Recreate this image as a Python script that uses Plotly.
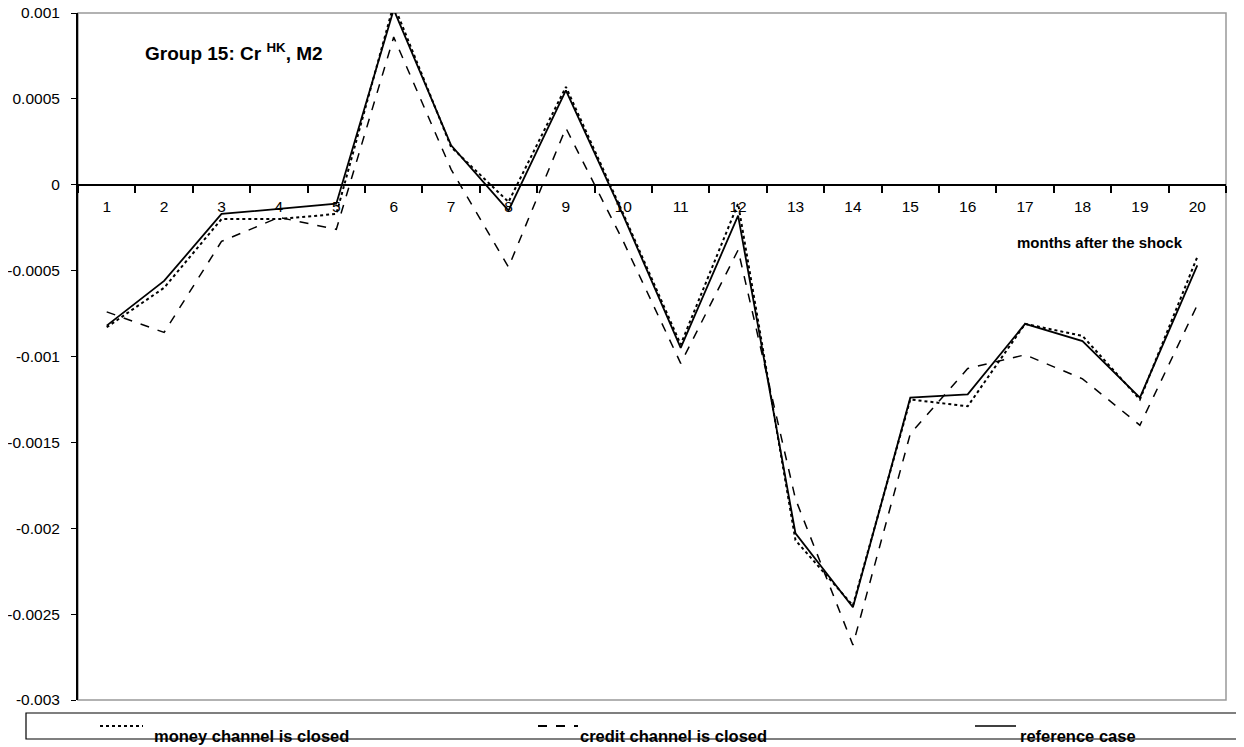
import plotly.graph_objects as go

months = [str(i) for i in range(1, 21)]
money_closed = [-0.00083, -0.00060, -0.00020, -0.00020, -0.00017, 0.00105, 0.00022, -0.00010, 0.00057, -0.00017,
                -0.00093, -0.00011, -0.00207, -0.00245, -0.00125, -0.00129, -0.00081, -0.00088, -0.00125, -0.00042]
credit_closed = [-0.00074, -0.00086, -0.00033, -0.00019, -0.00026, 0.00086, 0.00009, -0.00048, 0.00033, -0.00033,
                 -0.00104, -0.00038, -0.00183, -0.00268, -0.00145, -0.00107, -0.00099, -0.00113, -0.00140, -0.00070]
reference = [-0.00082, -0.00056, -0.00017, -0.00014, -0.00011, 0.00102, 0.00023, -0.00015, 0.00055, -0.00018,
             -0.00095, -0.00018, -0.00203, -0.00246, -0.00124, -0.00122, -0.00081, -0.00091, -0.00124, -0.00047]
y_ticks = [0.001, 0.0005, 0, -0.0005, -0.001, -0.0015, -0.002, -0.0025, -0.003]
y_tick_labels = ["0.001", "0.0005", "0", "-0.0005", "-0.001", "-0.0015", "-0.002", "-0.0025", "-0.003"]

# the page places the figure 8px from its top-left corner (default body margin)
W, H = 1236, 739
L, R, T, B = 70, 18, 5, 47
OFF = 8
PLOT_LEFT = OFF + L
PLOT_BOTTOM = OFF + H - B
PH = H - T - B
PW = W - L - R

def py(ypage):
    return (PLOT_BOTTOM - ypage) / PH

def px(xpage):
    return (xpage - PLOT_LEFT) / PW

FONT = "Liberation Sans, Arial, sans-serif"

fig = go.Figure()
fig.add_trace(go.Scatter(x=months, y=money_closed, mode="lines", name="money channel is closed",
                         line=dict(color="black", width=2, dash="dot"), showlegend=False))
fig.add_trace(go.Scatter(x=months, y=credit_closed, mode="lines", name="credit channel is closed",
                         line=dict(color="black", width=1.5, dash="dash"), showlegend=False))
fig.add_trace(go.Scatter(x=months, y=reference, mode="lines", name="reference case",
                         line=dict(color="black", width=1.8), showlegend=False))

shapes = [
    dict(type="rect", xref="paper", yref="paper", x0=0, x1=1, y0=0, y1=1,
         line=dict(color="#999999", width=1.5), layer="below"),
    dict(type="rect", xref="paper", yref="paper", x0=px(26), x1=px(1241), y0=py(739), y1=py(713),
         line=dict(color="black", width=1.2)),
    dict(type="line", xref="paper", yref="paper", x0=px(100), x1=px(143), y0=py(726), y1=py(726),
         line=dict(color="black", width=2, dash="dot")),
    dict(type="line", xref="paper", yref="paper", x0=px(538), x1=px(578), y0=py(726), y1=py(726),
         line=dict(color="black", width=1.8, dash="dash")),
    dict(type="line", xref="paper", yref="paper", x0=px(975), x1=px(1016), y0=py(726), y1=py(726),
         line=dict(color="black", width=1.5)),
]

annotations = [
    dict(text="<b>Group 15: Cr <sup>HK</sup>, M2</b>", xref="paper", yref="paper", x=px(143), y=py(52),
         xanchor="left", yanchor="middle", showarrow=False, font=dict(family=FONT, size=19, color="black")),
    dict(text="<b>months after the shock</b>", xref="paper", yref="paper", x=px(1100), y=py(243),
         xanchor="center", yanchor="middle", showarrow=False, font=dict(family=FONT, size=15, color="black")),
    dict(text="<b>money channel is closed</b>", xref="paper", yref="paper", x=px(152), y=py(736),
         xanchor="left", yanchor="middle", showarrow=False, font=dict(family=FONT, size=16.5, color="black")),
    dict(text="<b>credit channel is closed</b>", xref="paper", yref="paper", x=px(578), y=py(736),
         xanchor="left", yanchor="middle", showarrow=False, font=dict(family=FONT, size=16.5, color="black")),
    dict(text="<b>reference case</b>", xref="paper", yref="paper", x=px(1018), y=py(736),
         xanchor="left", yanchor="middle", showarrow=False, font=dict(family=FONT, size=16.5, color="black")),
]

fig.update_layout(
    width=W, height=H,
    margin=dict(l=L, r=R, t=T, b=B, pad=0, autoexpand=False),
    paper_bgcolor="white", plot_bgcolor="white",
    font=dict(family=FONT, size=15, color="black"),
    shapes=shapes, annotations=annotations,
    showlegend=False,
    xaxis=dict(type="category", anchor="free", position=0.75, showline=True, linecolor="black", linewidth=2,
               ticks="outside", ticklen=7, tickwidth=1.5, tickcolor="black", tickson="boundaries",
               showgrid=False, zeroline=False, ticklabelstandoff=8, automargin=False,
               tickfont=dict(family=FONT, size=15.5, color="black"), range=[-0.5, 19.5]),
    yaxis=dict(range=[-0.003, 0.001], tickvals=y_ticks, ticktext=y_tick_labels, showline=True,
               linecolor="black", linewidth=2, ticks="outside", ticklen=5, tickcolor="black",
               showgrid=False, zeroline=False, automargin=False, ticklabelstandoff=8,
               ticklabeloverflow="allow",
               tickfont=dict(family=FONT, size=15.5, color="black")),
)

fig.write_html("out.html")
